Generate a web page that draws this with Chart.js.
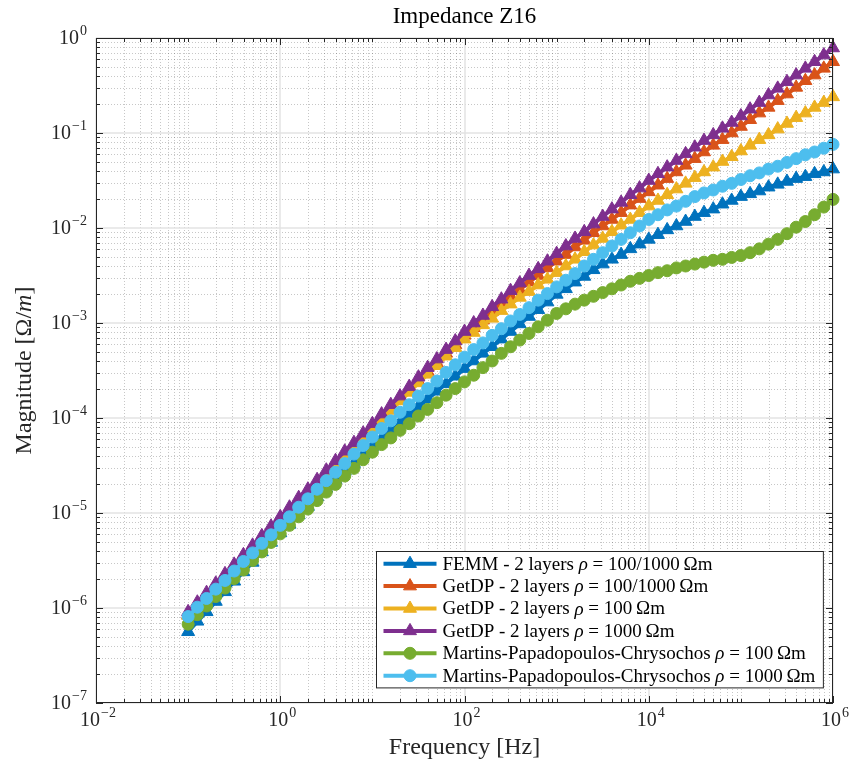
<!DOCTYPE html>
<html>
<head>
<meta charset="utf-8">
<title>Impedance Z16</title>
<script src="https://cdn.jsdelivr.net/npm/chart.js@4.4.1/dist/chart.umd.min.js"></script>
<style>
  html, body { margin: 0; padding: 0; background: #fff; }
  #wrap { width: 849px; height: 769px; }
</style>
</head>
<body>
<div id="wrap"><canvas id="impedanceChart" width="849" height="769"></canvas></div>
<script>
// frequency sweep, 10 points per decade [Hz]
const freq = [
  0.1, 0.1259, 0.1585, 0.1995, 0.2512, 0.3162, 0.3981, 0.5012, 0.631, 0.7943,
  1, 1.259, 1.585, 1.995, 2.512, 3.162, 3.981, 5.012, 6.31, 7.943,
  10, 12.59, 15.85, 19.95, 25.12, 31.62, 39.81, 50.12, 63.1, 79.43,
  100, 125.9, 158.5, 199.5, 251.2, 316.2, 398.1, 501.2, 631, 794.3,
  1000, 1259, 1585, 1995, 2512, 3162, 3981, 5012, 6310, 7943,
  1e4, 12589, 15849, 19953, 25119, 31623, 39811, 50119, 63096, 79433,
  1e5, 125893, 158489, 199526, 251189, 316228, 398107, 501187, 630957, 794328,
  1e6
];

// |Z16| in Ohm/m
const femm2Layers = [
  5.62e-7, 7.24e-7, 9.12e-7, 1.17e-6, 1.48e-6, 1.91e-6, 2.40e-6, 3.02e-6, 3.89e-6, 4.90e-6,
  6.17e-6, 7.59e-6, 9.55e-6, 1.17e-5, 1.48e-5, 1.82e-5, 2.24e-5, 2.75e-5, 3.31e-5, 4.07e-5,
  5.01e-5, 6.03e-5, 7.41e-5, 8.91e-5, 1.10e-4, 1.32e-4, 1.58e-4, 1.91e-4, 2.29e-4, 2.75e-4,
  3.31e-4, 3.98e-4, 4.79e-4, 5.62e-4, 6.76e-4, 8.13e-4, 9.77e-4, 1.17e-3, 1.38e-3, 1.66e-3,
  2.00e-3, 2.29e-3, 2.69e-3, 3.09e-3, 3.63e-3, 4.17e-3, 4.68e-3, 5.25e-3, 6.03e-3, 6.76e-3,
  7.59e-3, 8.51e-3, 9.55e-3, 1.05e-2, 1.17e-2, 1.32e-2, 1.45e-2, 1.58e-2, 1.78e-2, 1.95e-2,
  2.14e-2, 2.29e-2, 2.45e-2, 2.69e-2, 2.88e-2, 3.09e-2, 3.31e-2, 3.47e-2, 3.72e-2, 3.89e-2,
  4.17e-2
];
const getdp2Layers = [
  8.51e-7, 1.07e-6, 1.35e-6, 1.70e-6, 2.14e-6, 2.69e-6, 3.39e-6, 4.27e-6, 5.37e-6, 6.76e-6,
  8.51e-6, 1.07e-5, 1.35e-5, 1.66e-5, 2.09e-5, 2.63e-5, 3.31e-5, 4.17e-5, 5.13e-5, 6.46e-5,
  8.13e-5, 1.02e-4, 1.26e-4, 1.58e-4, 1.95e-4, 2.45e-4, 3.09e-4, 3.80e-4, 4.79e-4, 5.89e-4,
  7.41e-4, 8.91e-4, 1.07e-3, 1.32e-3, 1.58e-3, 1.91e-3, 2.24e-3, 2.69e-3, 3.16e-3, 3.80e-3,
  4.47e-3, 5.25e-3, 6.31e-3, 7.41e-3, 8.91e-3, 1.05e-2, 1.23e-2, 1.45e-2, 1.74e-2, 2.04e-2,
  2.40e-2, 2.82e-2, 3.31e-2, 3.89e-2, 4.57e-2, 5.37e-2, 6.31e-2, 7.41e-2, 8.51e-2, 0.100,
  0.117, 0.138, 0.162, 0.186, 0.219, 0.257, 0.302, 0.355, 0.407, 0.479,
  0.562
];
const getdpRho100 = [
  8.32e-7, 1.05e-6, 1.32e-6, 1.66e-6, 2.09e-6, 2.63e-6, 3.31e-6, 4.17e-6, 5.25e-6, 6.61e-6,
  8.32e-6, 1.05e-5, 1.32e-5, 1.62e-5, 2.04e-5, 2.57e-5, 3.24e-5, 3.98e-5, 5.01e-5, 6.17e-5,
  7.76e-5, 9.77e-5, 1.20e-4, 1.51e-4, 1.86e-4, 2.34e-4, 2.88e-4, 3.55e-4, 4.47e-4, 5.50e-4,
  6.76e-4, 7.94e-4, 9.55e-4, 1.12e-3, 1.35e-3, 1.58e-3, 1.86e-3, 2.14e-3, 2.51e-3, 2.88e-3,
  3.39e-3, 3.98e-3, 4.68e-3, 5.62e-3, 6.61e-3, 7.76e-3, 9.12e-3, 1.07e-2, 1.23e-2, 1.45e-2,
  1.70e-2, 1.95e-2, 2.24e-2, 2.57e-2, 2.95e-2, 3.39e-2, 3.89e-2, 4.37e-2, 5.01e-2, 5.62e-2,
  6.46e-2, 7.41e-2, 8.51e-2, 9.55e-2, 0.110, 0.126, 0.145, 0.162, 0.186, 0.209,
  0.240
];
const getdpRho1000 = [
  9.12e-7, 1.15e-6, 1.45e-6, 1.82e-6, 2.29e-6, 2.88e-6, 3.63e-6, 4.57e-6, 5.75e-6, 7.24e-6,
  9.12e-6, 1.15e-5, 1.45e-5, 1.78e-5, 2.24e-5, 2.82e-5, 3.55e-5, 4.47e-5, 5.50e-5, 6.92e-5,
  8.71e-5, 1.10e-4, 1.38e-4, 1.70e-4, 2.14e-4, 2.69e-4, 3.39e-4, 4.17e-4, 5.25e-4, 6.46e-4,
  8.13e-4, 1.00e-3, 1.20e-3, 1.48e-3, 1.78e-3, 2.19e-3, 2.63e-3, 3.16e-3, 3.72e-3, 4.47e-3,
  5.37e-3, 6.46e-3, 7.76e-3, 9.12e-3, 1.10e-2, 1.32e-2, 1.58e-2, 1.86e-2, 2.24e-2, 2.63e-2,
  3.16e-2, 3.72e-2, 4.37e-2, 5.13e-2, 6.03e-2, 7.08e-2, 8.32e-2, 9.55e-2, 0.112, 0.129,
  0.151, 0.178, 0.209, 0.251, 0.295, 0.347, 0.407, 0.479, 0.562, 0.661,
  0.785
];
const mpcRho100 = [
  6.76e-7, 8.51e-7, 1.05e-6, 1.32e-6, 1.62e-6, 2.04e-6, 2.51e-6, 3.16e-6, 3.89e-6, 4.90e-6,
  6.03e-6, 7.41e-6, 9.12e-6, 1.10e-5, 1.35e-5, 1.66e-5, 2.00e-5, 2.45e-5, 2.95e-5, 3.63e-5,
  4.37e-5, 5.25e-5, 6.17e-5, 7.41e-5, 8.71e-5, 1.05e-4, 1.23e-4, 1.45e-4, 1.74e-4, 2.04e-4,
  2.40e-4, 2.82e-4, 3.39e-4, 3.98e-4, 4.79e-4, 5.62e-4, 6.61e-4, 7.76e-4, 9.12e-4, 1.07e-3,
  1.26e-3, 1.41e-3, 1.58e-3, 1.74e-3, 1.91e-3, 2.09e-3, 2.29e-3, 2.51e-3, 2.75e-3, 2.95e-3,
  3.16e-3, 3.39e-3, 3.55e-3, 3.80e-3, 3.98e-3, 4.17e-3, 4.37e-3, 4.57e-3, 4.68e-3, 4.90e-3,
  5.13e-3, 5.50e-3, 6.03e-3, 6.76e-3, 7.59e-3, 8.71e-3, 1.02e-2, 1.17e-2, 1.38e-2, 1.66e-2,
  2.00e-2
];
const mpcRho1000 = [
  8.13e-7, 1.02e-6, 1.26e-6, 1.58e-6, 1.95e-6, 2.45e-6, 3.09e-6, 3.80e-6, 4.79e-6, 5.89e-6,
  7.41e-6, 9.12e-6, 1.15e-5, 1.41e-5, 1.78e-5, 2.19e-5, 2.69e-5, 3.31e-5, 4.17e-5, 5.13e-5,
  6.31e-5, 7.76e-5, 9.33e-5, 1.15e-4, 1.38e-4, 1.70e-4, 2.04e-4, 2.45e-4, 3.02e-4, 3.63e-4,
  4.37e-4, 5.25e-4, 6.17e-4, 7.41e-4, 8.71e-4, 1.05e-3, 1.23e-3, 1.45e-3, 1.74e-3, 2.04e-3,
  2.40e-3, 2.82e-3, 3.31e-3, 3.98e-3, 4.68e-3, 5.50e-3, 6.46e-3, 7.59e-3, 8.91e-3, 1.05e-2,
  1.23e-2, 1.38e-2, 1.55e-2, 1.70e-2, 1.91e-2, 2.14e-2, 2.34e-2, 2.51e-2, 2.75e-2, 2.95e-2,
  3.24e-2, 3.55e-2, 3.80e-2, 4.17e-2, 4.47e-2, 4.90e-2, 5.37e-2, 5.89e-2, 6.31e-2, 6.92e-2,
  7.59e-2
];

const seriesLabels = [
  'FEMM - 2 layers ρ = 100/1000\u2009Ωm',
  'GetDP - 2 layers ρ = 100/1000\u2009Ωm',
  'GetDP - 2 layers ρ = 100\u2009Ωm',
  'GetDP - 2 layers ρ = 1000\u2009Ωm',
  'Martins-Papadopoulos-Chrysochos ρ = 100\u2009Ωm',
  'Martins-Papadopoulos-Chrysochos ρ = 1000\u2009Ωm'
];
const seriesValues = [femm2Layers, getdp2Layers, getdpRho100, getdpRho1000, mpcRho100, mpcRho1000];
const seriesColors = ['#0072BD', '#D95319', '#EDB120', '#7E2F8E', '#77AC30', '#4DBEEE'];
const seriesMarkers = ['triangle', 'triangle', 'triangle', 'triangle', 'circle', 'circle'];

// labelled decades on each axis
const xTickExps = [-2, 0, 2, 4, 6];
const yTickExps = [-7, -6, -5, -4, -3, -2, -1, 0];

const SERIF = '"Liberation Serif", "Times New Roman", serif';
const AXIS_COLOR = '#262626';

function markerRadius(style) {
  return style === 'triangle' ? 7.5 : 6;
}

function drawMarker(ctx, style, x, y) {
  const r = markerRadius(style);
  ctx.beginPath();
  if (style === 'triangle') {
    ctx.moveTo(x, y - r);
    ctx.lineTo(x + r * 0.866, y + r * 0.5);
    ctx.lineTo(x - r * 0.866, y + r * 0.5);
    ctx.closePath();
  } else {
    ctx.arc(x, y, r, 0, Math.PI * 2);
  }
  ctx.fill();
  ctx.stroke();
}

// text made of roman / italic runs
function richWidth(ctx, runs, size) {
  let w = 0;
  runs.forEach(([t, it]) => {
    ctx.font = (it ? 'italic ' : '') + size + 'px ' + SERIF;
    w += ctx.measureText(t).width;
  });
  return w;
}
function drawRich(ctx, runs, size, x, y) {
  runs.forEach(([t, it]) => {
    ctx.font = (it ? 'italic ' : '') + size + 'px ' + SERIF;
    ctx.fillText(t, x, y);
    x += ctx.measureText(t).width;
  });
  return x;
}
function rhoRuns(label) {
  const parts = label.split('ρ');
  return [[parts[0], false], ['ρ', true], [parts[1], false]];
}

// "10" with a raised exponent
function drawPower(ctx, exp, x, y, align) {
  const sup = exp < 0 ? '\u2212' + (-exp) : String(exp);
  ctx.font = '20px ' + SERIF;
  const wBase = ctx.measureText('10').width;
  ctx.font = '14px ' + SERIF;
  const wSup = ctx.measureText(sup).width;
  const total = wBase + 1 + wSup;
  const left = align === 'right' ? x - total : x - total / 2;
  ctx.textAlign = 'left';
  ctx.textBaseline = 'middle';
  ctx.font = '20px ' + SERIF;
  ctx.fillText('10', left, y);
  ctx.font = '14px ' + SERIF;
  ctx.fillText(sup, left + wBase + 1, y - 8);
}

function logPositions(minExp, maxExp) {
  const out = [];
  for (let e = minExp; e <= maxExp; e++) {
    for (let k = 1; k <= 9; k++) {
      if (e === maxExp && k > 1) break;
      out.push({ value: k * Math.pow(10, e), exp: e, k: k });
    }
  }
  return out;
}

const matlabAxes = {
  id: 'matlabAxes',
  beforeDatasetsDraw(chart) {
    const { ctx, chartArea: a, scales: { x, y } } = chart;
    const xs = logPositions(-2, 6);
    const ys = logPositions(-7, 0);
    const xMajor = p => p.k === 1 && xTickExps.includes(p.exp);
    const yMajor = p => p.k === 1 && yTickExps.includes(p.exp);

    ctx.save();
    // minor grid
    ctx.strokeStyle = 'rgba(0,0,0,0.22)';
    ctx.lineWidth = 1;
    ctx.setLineDash([1, 2]);
    ctx.beginPath();
    xs.filter(p => !xMajor(p)).forEach(p => {
      const px = Math.round(x.getPixelForValue(p.value)) + 0.5;
      ctx.moveTo(px, a.top);
      ctx.lineTo(px, a.bottom);
    });
    ys.filter(p => !yMajor(p)).forEach(p => {
      const py = Math.round(y.getPixelForValue(p.value)) + 0.5;
      ctx.moveTo(a.left, py);
      ctx.lineTo(a.right, py);
    });
    ctx.stroke();

    // major grid
    ctx.setLineDash([]);
    ctx.strokeStyle = '#e3e3e3';
    ctx.lineWidth = 1.5;
    ctx.beginPath();
    xs.filter(xMajor).forEach(p => {
      const px = Math.round(x.getPixelForValue(p.value));
      ctx.moveTo(px, a.top);
      ctx.lineTo(px, a.bottom);
    });
    ys.filter(yMajor).forEach(p => {
      const py = Math.round(y.getPixelForValue(p.value));
      ctx.moveTo(a.left, py);
      ctx.lineTo(a.right, py);
    });
    ctx.stroke();
    ctx.restore();
  },
  afterDraw(chart) {
    const { ctx, chartArea: a, scales: { x, y } } = chart;
    const xs = logPositions(-2, 6);
    const ys = logPositions(-7, 0);
    ctx.save();

    // box and inward ticks on all four sides
    ctx.strokeStyle = AXIS_COLOR;
    ctx.lineWidth = 1;
    ctx.strokeRect(a.left + 0.5, a.top + 0.5, a.right - a.left - 1, a.bottom - a.top - 1);
    ctx.beginPath();
    xs.forEach(p => {
      const len = (p.k === 1 && xTickExps.includes(p.exp)) ? 7 : 4;
      const px = Math.round(x.getPixelForValue(p.value)) + 0.5;
      ctx.moveTo(px, a.bottom); ctx.lineTo(px, a.bottom - len);
      ctx.moveTo(px, a.top); ctx.lineTo(px, a.top + len);
    });
    ys.forEach(p => {
      const len = p.k === 1 ? 7 : 4;
      const py = Math.round(y.getPixelForValue(p.value)) + 0.5;
      ctx.moveTo(a.left, py); ctx.lineTo(a.left + len, py);
      ctx.moveTo(a.right, py); ctx.lineTo(a.right - len, py);
    });
    ctx.stroke();

    // tick labels
    ctx.fillStyle = AXIS_COLOR;
    xTickExps.forEach(e => drawPower(ctx, e, x.getPixelForValue(Math.pow(10, e)) + 2, a.bottom + 18, 'center'));
    yTickExps.forEach(e => drawPower(ctx, e, a.left - 9, y.getPixelForValue(Math.pow(10, e)) + 1, 'right'));

    // titles
    const midX = (a.left + a.right) / 2;
    const midY = (a.top + a.bottom) / 2;
    ctx.textBaseline = 'middle';
    ctx.textAlign = 'center';
    ctx.fillStyle = '#000';
    ctx.font = '23px ' + SERIF;
    ctx.fillText('Impedance Z16', midX, 17);
    ctx.fillStyle = AXIS_COLOR;
    ctx.font = '24px ' + SERIF;
    ctx.fillText('Frequency [Hz]', midX, a.bottom + 45);

    const yRuns = [['Magnitude [Ω/', false], ['m', true], [']', false]];
    ctx.save();
    ctx.translate(25, midY);
    ctx.rotate(-Math.PI / 2);
    ctx.textAlign = 'left';
    drawRich(ctx, yRuns, 24, -richWidth(ctx, yRuns, 24) / 2, 0);
    ctx.restore();

    // legend, lower right
    const size = 19;
    const rowH = 22.4;
    const textW = Math.max(...seriesLabels.map(l => richWidth(ctx, rhoRuns(l), size)));
    const boxW = 7 + 53 + 6 + textW + 8;
    const boxH = seriesLabels.length * rowH + 2;
    const bx = Math.round(a.right - 10 - boxW) + 0.5;
    const by = Math.round(a.bottom - 16 - boxH) + 0.5;
    ctx.fillStyle = '#fff';
    ctx.fillRect(bx, by, boxW, boxH);
    ctx.strokeStyle = AXIS_COLOR;
    ctx.lineWidth = 1;
    ctx.strokeRect(bx, by, boxW, boxH);
    chart.data.datasets.forEach((ds, i) => {
      const cy = by + 1 + rowH * (i + 0.5);
      ctx.strokeStyle = ds.borderColor;
      ctx.fillStyle = ds.borderColor;
      ctx.lineWidth = 4;
      ctx.beginPath();
      ctx.moveTo(bx + 7, cy);
      ctx.lineTo(bx + 60, cy);
      ctx.stroke();
      ctx.lineWidth = 1;
      drawMarker(ctx, ds.pointStyle, bx + 33.5, cy);
      ctx.fillStyle = '#000';
      ctx.textAlign = 'left';
      ctx.textBaseline = 'middle';
      drawRich(ctx, rhoRuns(ds.label), size, bx + 66, cy + 1);
    });
    ctx.restore();
  }
};

const datasets = seriesValues.map((vals, i) => ({
  label: seriesLabels[i],
  data: freq.map((f, j) => ({ x: f, y: vals[j] })),
  borderColor: seriesColors[i],
  backgroundColor: seriesColors[i],
  borderWidth: 4,
  pointStyle: seriesMarkers[i],
  pointRadius: markerRadius(seriesMarkers[i]),
  pointBorderWidth: 1,
  pointBackgroundColor: seriesColors[i],
  pointBorderColor: seriesColors[i],
  tension: 0,
  clip: false,
  // later series are painted on top
  order: seriesValues.length - i
}));

new Chart(document.getElementById('impedanceChart'), {
  type: 'line',
  data: { datasets: datasets },
  options: {
    responsive: false,
    animation: false,
    events: [],
    layout: { padding: { left: 96, right: 16, top: 38, bottom: 66 } },
    scales: {
      x: { type: 'logarithmic', min: 1e-2, max: 1e6, display: false },
      y: { type: 'logarithmic', min: 1e-7, max: 1, display: false }
    },
    plugins: {
      legend: { display: false },
      tooltip: { enabled: false },
      title: { display: false }
    }
  },
  plugins: [matlabAxes]
});
</script>
</body>
</html>
